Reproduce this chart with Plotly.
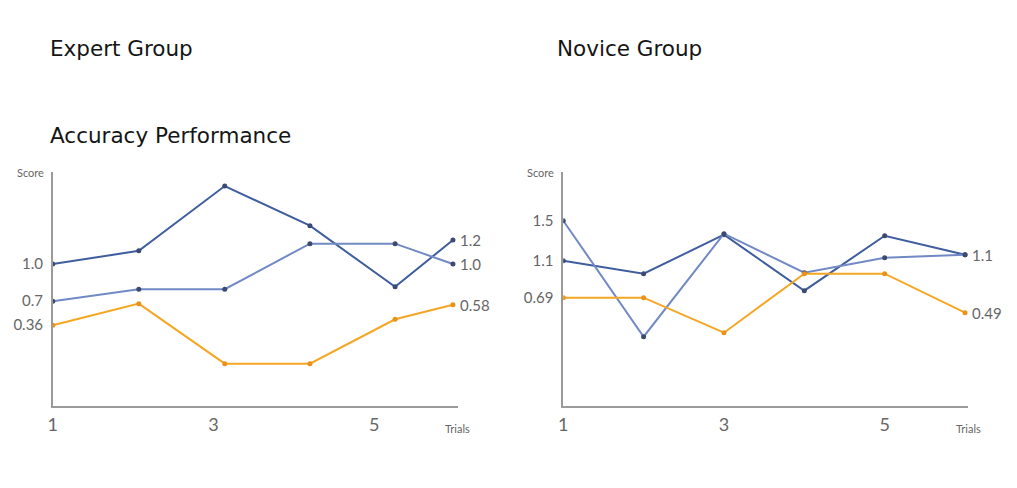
import plotly.graph_objects as go

# trials (x)
expert_trials = [1, 2.07, 3.14, 4.2, 5.26, 5.98]
novice_trials = [1, 2, 3, 4, 5, 6]

# expert group scores
expert_dark = [1.0, 1.11, 1.65, 1.32, 0.81, 1.2]
expert_light = [0.69, 0.79, 0.79, 1.17, 1.17, 1.0]
expert_orange = [0.49, 0.67, 0.17, 0.17, 0.54, 0.66]

# novice group scores
novice_dark = [1.10, 0.97, 1.36, 0.80, 1.35, 1.16]
novice_light = [1.50, 0.34, 1.37, 0.98, 1.13, 1.16]
novice_orange = [0.73, 0.73, 0.38, 0.97, 0.97, 0.58]

# labels printed next to the lines
expert_start_labels = ["1.0", "0.7", "0.36"]
expert_end_labels = ["1.2", "1.0", "0.58"]
novice_start_labels = ["1.1", "1.5", "0.69"]
novice_end_labels = ["1.1", None, "0.49"]

x_ticks = [1, 3, 5]
x_tick_labels = ["1", "3", "5"]

DARK = "#3f5e9e"
LIGHT = "#7189c4"
ORANGE = "#f5a623"
FONT = "Lato, sans-serif"
TITLE_FONT = "DejaVu Sans, sans-serif"
GREY = "#666666"

# page has an 8px body margin, so the figure is sized to fit inside it
W, H = 1009, 480


def px(x):
    return (x - 10) / W


def py(y):
    return 1 - (y - 8) / H


fig = go.Figure()

panels = [
    ("x", "y", expert_trials, [expert_dark, expert_light, expert_orange],
     expert_start_labels, expert_end_labels),
    ("x2", "y2", novice_trials, [novice_dark, novice_light, novice_orange],
     novice_start_labels, novice_end_labels),
]

for xa, ya, xs, series, start_labels, end_labels in panels:
    for ys, col in zip(series, [DARK, LIGHT, ORANGE]):
        mcol = "#e8921a" if col == ORANGE else "#3a4a70"
        fig.add_trace(go.Scatter(
            x=xs, y=ys, xaxis=xa, yaxis=ya,
            mode="lines+markers",
            line=dict(color=col, width=2),
            marker=dict(color=mcol, size=5),
            showlegend=False, hoverinfo="skip"
        ))
    for ys, lab in zip(series, end_labels):
        if lab is None:
            continue
        fig.add_annotation(
            x=xs[-1], y=ys[-1], xref=xa, yref=ya, text=lab,
            showarrow=False, xanchor="left", xshift=5,
            font=dict(family=FONT, size=15, color=GREY)
        )

axis_common = dict(
    showgrid=False, zeroline=False, showline=True,
    linecolor="#9a9a9a", linewidth=1.5, ticks="",
    fixedrange=True
)

fig.update_layout(
    width=W, height=H,
    margin=dict(l=0, r=0, t=0, b=0),
    paper_bgcolor="white", plot_bgcolor="white",
    font=dict(family=FONT, color=GREY),
    xaxis=dict(domain=[px(50), px(457)], range=[1, 6.04], anchor="y",
               tickvals=x_ticks, ticktext=x_tick_labels,
               tickfont=dict(size=18, color=GREY), ticklabelstandoff=2,
               **axis_common),
    yaxis=dict(domain=[py(406), py(172)], range=[-0.183, 1.767], anchor="x",
               tickvals=[s[0] for s in [expert_dark, expert_light, expert_orange]],
               ticktext=expert_start_labels,
               tickfont=dict(size=15, color=GREY), ticklabelstandoff=5,
               **axis_common),
    xaxis2=dict(domain=[px(563), px(970)], range=[1, 6.04], anchor="y2",
                tickvals=x_ticks, ticktext=x_tick_labels,
                tickfont=dict(size=18, color=GREY), ticklabelstandoff=2,
                **axis_common),
    yaxis2=dict(domain=[py(406), py(172)], range=[-0.353, 1.987], anchor="x2",
                tickvals=[s[0] for s in [novice_dark, novice_light, novice_orange]],
                ticktext=novice_start_labels,
                tickfont=dict(size=15, color=GREY), ticklabelstandoff=5,
                **axis_common),
)

# titles
for txt, x, y in [("Expert Group", 45, 48),
                  ("Novice Group", 555, 48),
                  ("Accuracy Performance", 45, 135)]:
    fig.add_annotation(text=txt, x=px(x), y=py(y), xref="paper", yref="paper",
                       showarrow=False, xanchor="left", yanchor="middle",
                       font=dict(family=TITLE_FONT, size=21.5, color="#151515"))

# axis names
for xd, yd in [("x domain", "y domain"), ("x2 domain", "y2 domain")]:
    fig.add_annotation(text="Score", x=0, y=1, xref=xd, yref=yd,
                       showarrow=False, xanchor="right", yanchor="middle",
                       xshift=-7, font=dict(family=FONT, size=11, color=GREY))
    fig.add_annotation(text="Trials", x=1, y=0, xref=xd, yref=yd,
                       showarrow=False, xanchor="center", yanchor="middle",
                       yshift=-22, font=dict(family=FONT, size=11, color=GREY))

fig.write_html("out.html")
